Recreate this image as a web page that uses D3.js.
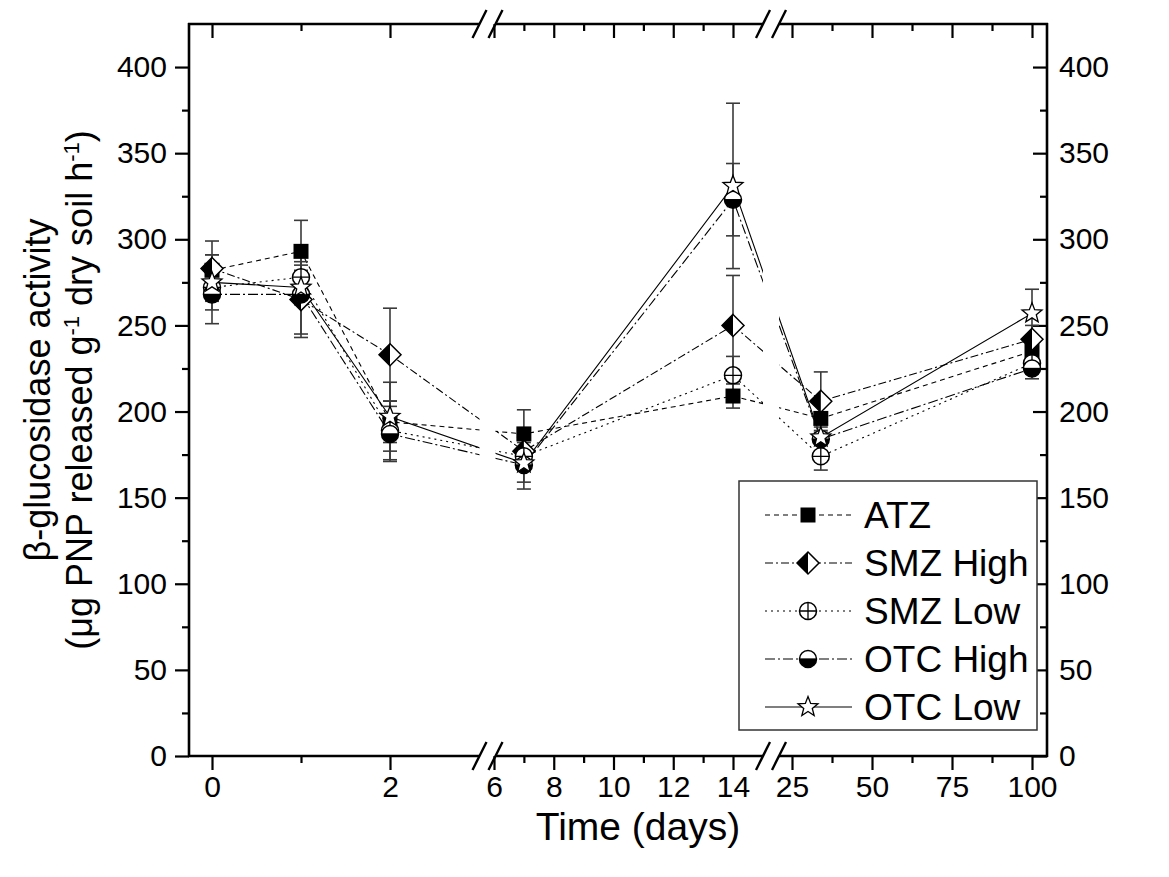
<!DOCTYPE html>
<html>
<head>
<meta charset="utf-8">
<script src="https://cdn.jsdelivr.net/npm/d3@7"></script>
<style>
  body { margin: 0; background: #fff; }
  text { font-family: "Liberation Sans", Arial, sans-serif; fill: #000; }
</style>
</head>
<body>
<script>
// Drawing area
const w = 1169;
const h = 877;

// Plot frame
const plotL = 189, plotR = 1047, plotT = 24, plotB = 756;

// Sampling days
const days = [0, 1, 2, 7, 14, 34, 100];

// Series means (ug PNP g-1 h-1)
const atz      = [282, 293, 194, 187, 209, 196, 235];
const smzHigh  = [283, 265, 233, 177, 250, 206, 242];
const smzLow   = [272, 278, 189, 174, 221, 174, 228];
const otcHigh  = [268, 268, 187, 169, 323, 184, 225];
const otcLow   = [275, 272, 197, 170, 331, 185, 257];

// Error bars (+/-)
const atzErr     = [9, 18, 12, 14, 7, 8, 5];
const smzHighErr = [16, 20, 27, 10, 29, 17, 8];
const smzLowErr  = [8, 9, 17, 8, 11, 8, 6];
const otcHighErr = [17, 25, 16, 10, 21, 7, 6];
const otcLowErr  = [16, 10, 20, 15, 48, 10, 14];

const seriesNames = ["ATZ", "SMZ High", "SMZ Low", "OTC High", "OTC Low"];

// Axis ticks
const xMajor = [0, 2, 6, 8, 10, 12, 14, 25, 50, 75, 100];
const xMinor = [1, 7, 9, 11, 13, 37.5, 62.5, 87.5];
const yMajor = [0, 50, 100, 150, 200, 250, 300, 350, 400];
const yMinor = [25, 75, 125, 175, 225, 275, 325, 375];

// Broken x axis: segment stops and where the breaks sit
const xDomainStops = [0, 2, 6, 14, 25, 100];
const xRangeStops = [212, 390, 494, 733, 792, 1032];
const breaks = [487.5, 771];
const gapHalf = 8;

const series = [
  { name: seriesNames[0], vals: atz, err: atzErr, marker: "square", dash: "5,4" },
  { name: seriesNames[1], vals: smzHigh, err: smzHighErr, marker: "diamond", dash: "8,3,2,3" },
  { name: seriesNames[2], vals: smzLow, err: smzLowErr, marker: "circlePlus", dash: "2,4" },
  { name: seriesNames[3], vals: otcHigh, err: otcHighErr, marker: "halfCircle", dash: "10,3,2,3" },
  { name: seriesNames[4], vals: otcLow, err: otcLowErr, marker: "star", dash: null }
];

const svg = d3.select("body").append("svg").attr("width", w).attr("height", h);

// Scales
const x = d3.scaleLinear().domain(xDomainStops).range(xRangeStops);
const y = d3.scaleLinear().domain([0, 425]).range([plotB, plotT]);

// Clip lines around the axis breaks
const clip = svg.append("defs").append("clipPath").attr("id", "brk");
const edges = [plotL, breaks[0] - gapHalf, breaks[0] + gapHalf, breaks[1] - gapHalf, breaks[1] + gapHalf, plotR];
for (let i = 0; i < edges.length; i += 2) {
  clip.append("rect").attr("x", edges[i]).attr("y", 0).attr("width", edges[i + 1] - edges[i]).attr("height", h);
}

// X axes (bottom: ticks out with labels, top: ticks in)
function drawXAxis(yPos, isBottom) {
  const major = svg.append("g").attr("transform", "translate(0," + yPos + ")")
    .call(d3.axisBottom(x).tickValues(xMajor).tickSize(14).tickPadding(6)
      .tickFormat(isBottom ? d3.format("d") : ""));
  const minor = svg.append("g").attr("transform", "translate(0," + yPos + ")")
    .call(d3.axisBottom(x).tickValues(xMinor).tickSize(7).tickFormat(""));
  [major, minor].forEach(g => {
    g.select(".domain").remove();
    g.selectAll(".tick line").attr("stroke", "#000").attr("stroke-width", 2.2);
  });
  major.selectAll("text").style("font-size", "30px");
  // axis line with gaps at the breaks
  for (let i = 0; i < edges.length; i += 2) {
    svg.append("line")
      .attr("x1", i === 0 ? edges[i] - 1 : edges[i])
      .attr("x2", i === edges.length - 2 ? edges[i + 1] + 1 : edges[i + 1])
      .attr("y1", yPos).attr("y2", yPos).attr("stroke", "#000").attr("stroke-width", 2.6);
  }
  // break slashes
  breaks.forEach(b => {
    [-gapHalf, gapHalf].forEach(o => {
      svg.append("line").attr("x1", b + o - 7).attr("y1", yPos + 14).attr("x2", b + o + 7).attr("y2", yPos - 14)
        .attr("stroke", "#000").attr("stroke-width", 2.4);
    });
  });
}
drawXAxis(plotB, true);
drawXAxis(plotT, false);

// Left y axis
const yl = svg.append("g").attr("transform", "translate(" + plotL + ",0)")
  .call(d3.axisLeft(y).tickValues(yMajor).tickSize(14).tickPadding(8));
const ylm = svg.append("g").attr("transform", "translate(" + plotL + ",0)")
  .call(d3.axisLeft(y).tickValues(yMinor).tickSize(7).tickFormat(""));
// Right y axis, ticks inward
const yr = svg.append("g").attr("transform", "translate(" + plotR + ",0)")
  .call(d3.axisRight(y).tickValues(yMajor).tickSize(-14).tickPadding(12));
const yrm = svg.append("g").attr("transform", "translate(" + plotR + ",0)")
  .call(d3.axisRight(y).tickValues(yMinor).tickSize(-7).tickFormat(""));
[yl, ylm, yr, yrm].forEach(g => {
  g.select(".domain").remove();
  g.selectAll(".tick line").attr("stroke", "#000").attr("stroke-width", 2.2);
  g.selectAll("text").style("font-size", "30px");
});
[plotL, plotR].forEach(xp => {
  svg.append("line").attr("x1", xp).attr("x2", xp).attr("y1", plotT - 1).attr("y2", plotB + 1)
    .attr("stroke", "#000").attr("stroke-width", 2.6);
});

// Markers
function drawMarker(g, type, cx, cy) {
  if (type === "square") {
    g.append("rect").attr("x", cx - 7.5).attr("y", cy - 7.5).attr("width", 15).attr("height", 15)
      .attr("fill", "#000");
  } else if (type === "diamond") {
    const r = 11;
    g.append("path").attr("d", `M${cx},${cy - r}L${cx + r},${cy}L${cx},${cy + r}L${cx - r},${cy}Z`)
      .attr("fill", "#fff").attr("stroke", "#000").attr("stroke-width", 1.5);
    g.append("path").attr("d", `M${cx},${cy - r}L${cx - r},${cy}L${cx},${cy + r}Z`).attr("fill", "#000");
  } else if (type === "circlePlus") {
    const r = 8.5;
    g.append("circle").attr("cx", cx).attr("cy", cy).attr("r", r).attr("fill", "#fff")
      .attr("stroke", "#000").attr("stroke-width", 1.5);
    g.append("path").attr("d", `M${cx - r},${cy}H${cx + r}M${cx},${cy - r}V${cy + r}`)
      .attr("stroke", "#000").attr("stroke-width", 1.3);
  } else if (type === "halfCircle") {
    const r = 8.5;
    g.append("circle").attr("cx", cx).attr("cy", cy).attr("r", r).attr("fill", "#fff")
      .attr("stroke", "#000").attr("stroke-width", 1.5);
    g.append("path").attr("d", `M${cx - r},${cy}A${r},${r} 0 0 0 ${cx + r},${cy}Z`).attr("fill", "#000");
    g.append("line").attr("x1", cx - r).attr("x2", cx + r).attr("y1", cy).attr("y2", cy)
      .attr("stroke", "#000").attr("stroke-width", 1.3);
  } else if (type === "star") {
    const pts = d3.range(10).map(i => {
      const a = -Math.PI / 2 + i * Math.PI / 5;
      const rr = i % 2 === 0 ? 10.5 : 4.5;
      return [cx + rr * Math.cos(a), cy + rr * Math.sin(a)];
    });
    g.append("path").attr("d", "M" + pts.join("L") + "Z").attr("fill", "#fff")
      .attr("stroke", "#000").attr("stroke-width", 1.3);
  }
}

// Series lines, then error bars, then markers
const line = d3.line().x(d => x(d.day)).y(d => y(d.v));
const points = s => days.map((d, i) => ({ day: d, v: s.vals[i], e: s.err[i] }));

series.forEach(s => {
  svg.append("path").datum(points(s)).attr("d", line).attr("fill", "none")
    .attr("stroke", "#000").attr("stroke-width", 1.1)
    .attr("stroke-dasharray", s.dash).attr("clip-path", "url(#brk)");
});
series.forEach(s => {
  const eb = svg.append("g").attr("stroke", "#3a3a3a").attr("stroke-width", 1.6);
  points(s).forEach(p => {
    const px = x(p.day);
    eb.append("line").attr("x1", px).attr("x2", px).attr("y1", y(p.v + p.e)).attr("y2", y(p.v - p.e));
    [p.v + p.e, p.v - p.e].forEach(v => {
      eb.append("line").attr("x1", px - 7).attr("x2", px + 7).attr("y1", y(v)).attr("y2", y(v));
    });
  });
});
series.forEach(s => {
  const g = svg.append("g");
  points(s).forEach(p => drawMarker(g, s.marker, x(p.day), y(p.v)));
});

// Legend
const lg = svg.append("g");
lg.append("rect").attr("x", 739).attr("y", 481).attr("width", 298).attr("height", 249)
  .attr("fill", "#fff").attr("stroke", "#333").attr("stroke-width", 1.5);
series.forEach((s, i) => {
  const cy = 515 + i * 48;
  lg.append("line").attr("x1", 765).attr("x2", 852).attr("y1", cy).attr("y2", cy)
    .attr("stroke", "#000").attr("stroke-width", 1.1).attr("stroke-dasharray", s.dash);
  drawMarker(lg, s.marker, 808, cy);
  lg.append("text").attr("x", 864).attr("y", cy + 13).style("font-size", "37px").text(s.name);
});

// Axis titles
svg.append("text").attr("x", (plotL + plotR) / 2 + 20).attr("y", 840).attr("text-anchor", "middle")
  .style("font-size", "39px").text("Time (days)");

const yc = (plotT + plotB) / 2;
svg.append("text").attr("transform", `translate(50,${yc}) rotate(-90)`).attr("text-anchor", "middle")
  .style("font-size", "36px").text("β-glucosidase activity");
const t2 = svg.append("text").attr("transform", `translate(92,${yc}) rotate(-90)`).attr("text-anchor", "middle")
  .style("font-size", "36px");
t2.append("tspan").text("(μg PNP released g");
t2.append("tspan").attr("dy", -13).style("font-size", "22px").text("-1");
t2.append("tspan").attr("dy", 13).text("  dry soil h");
t2.append("tspan").attr("dy", -13).style("font-size", "22px").text("-1");
t2.append("tspan").attr("dy", 13).text(")");
</script>
</body>
</html>
